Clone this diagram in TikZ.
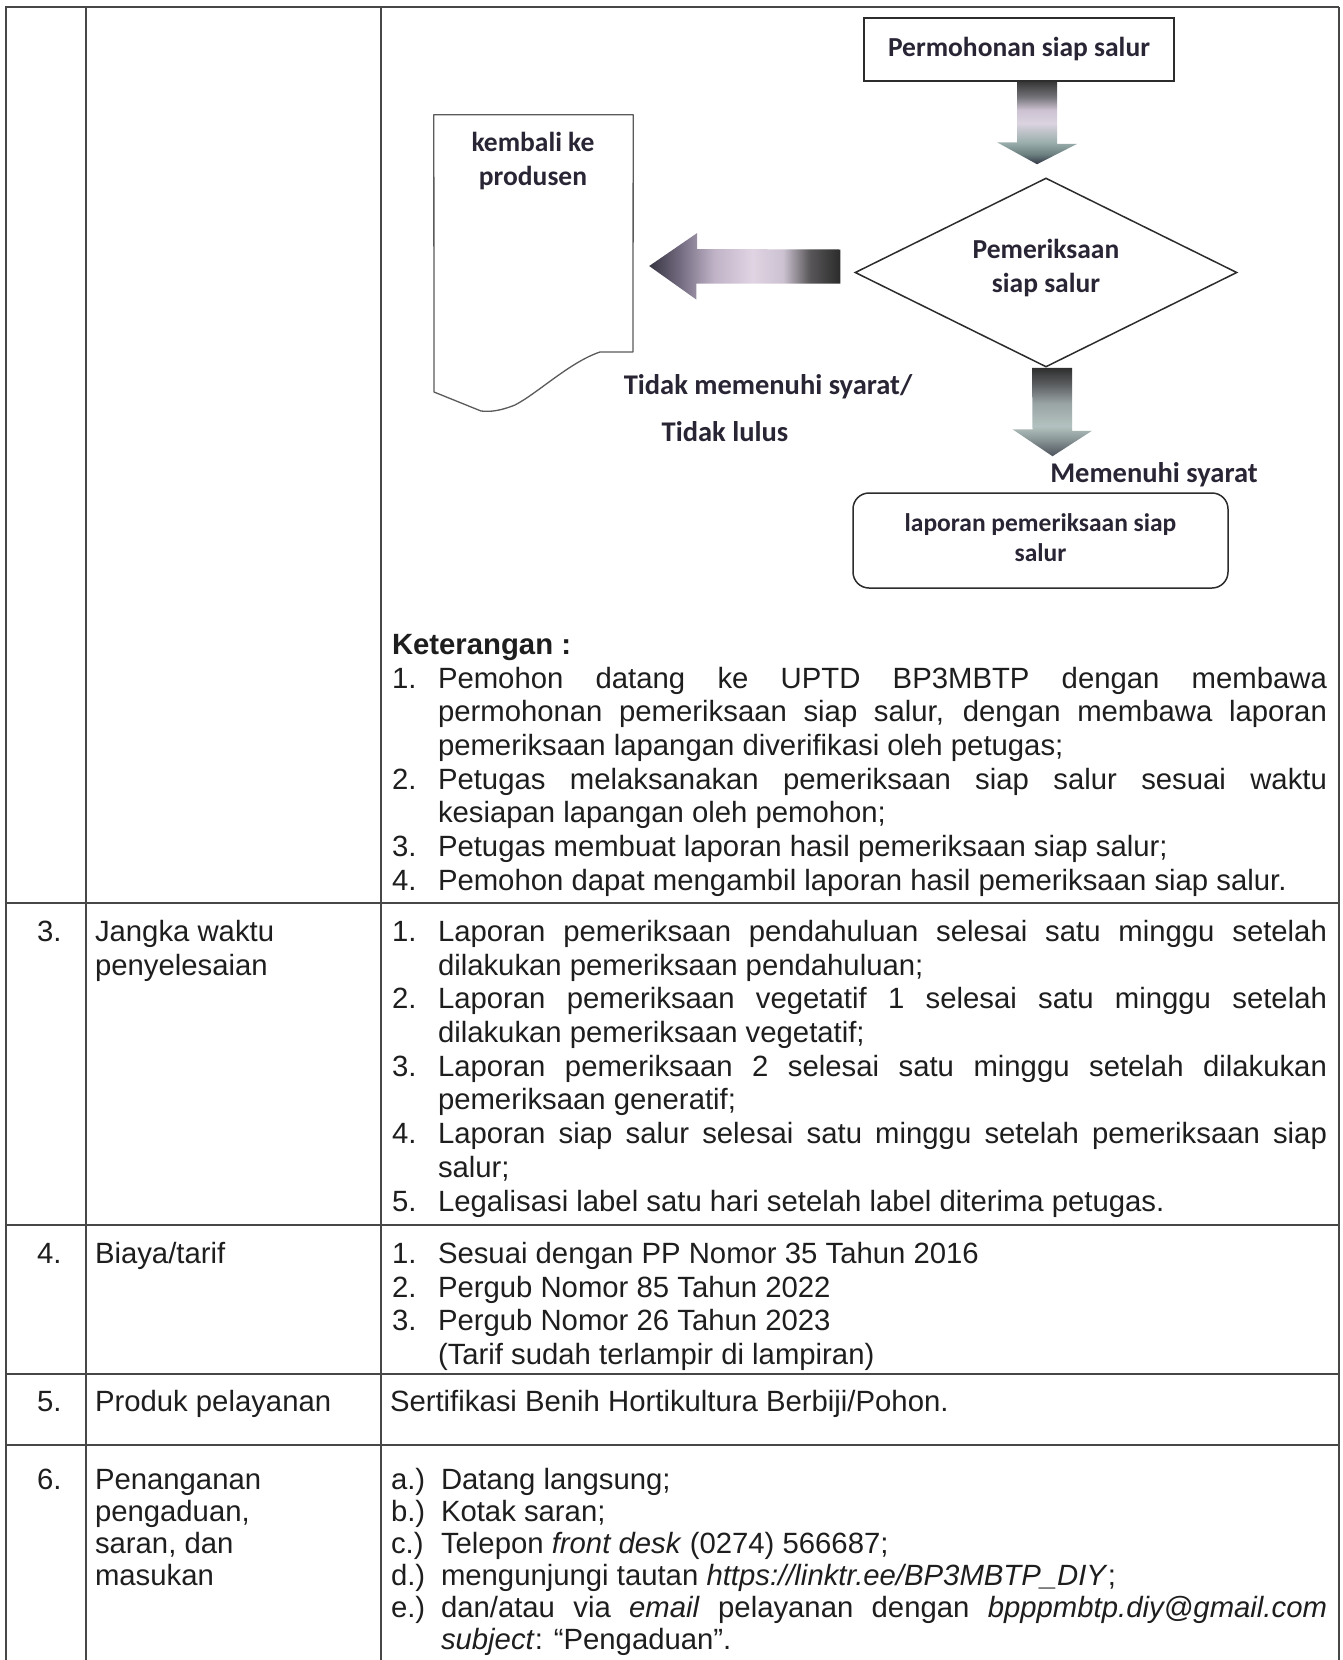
\documentclass[tikz,border=0pt]{standalone}
\usepackage{fontspec}
\setmainfont{Liberation Sans}
\newfontfamily\flowfont{Carlito}
\usetikzlibrary{shapes.geometric,calc}

\definecolor{ink}{HTML}{1E1E1E}
\definecolor{flowink}{HTML}{2A2535}
\definecolor{rulecol}{HTML}{474747}
\definecolor{shapecol}{HTML}{2C2C2C}
\definecolor{doccol}{HTML}{5A5A5A}

% shadings of the three block arrows
\pgfdeclareverticalshading{downshadeA}{100bp}{%
  rgb(0bp)=(0.20,0.21,0.27); rgb(25bp)=(0.20,0.21,0.27);
  rgb(31bp)=(0.42,0.50,0.50); rgb(38bp)=(0.60,0.68,0.67);
  rgb(50bp)=(0.86,0.83,0.88); rgb(58bp)=(0.80,0.76,0.82);
  rgb(66bp)=(0.45,0.45,0.47); rgb(75bp)=(0.22,0.22,0.22);
  rgb(100bp)=(0.22,0.22,0.22)}
\pgfdeclareverticalshading{downshadeB}{100bp}{%
  rgb(0bp)=(0.30,0.32,0.36); rgb(25bp)=(0.30,0.32,0.36);
  rgb(35bp)=(0.55,0.60,0.60); rgb(42bp)=(0.70,0.76,0.75);
  rgb(55bp)=(0.60,0.64,0.64); rgb(66bp)=(0.35,0.36,0.37);
  rgb(75bp)=(0.18,0.18,0.18); rgb(100bp)=(0.18,0.18,0.18)}
\pgfdeclarehorizontalshading{leftshade}{100bp}{%
  rgb(0bp)=(0.22,0.21,0.26); rgb(25bp)=(0.22,0.21,0.26);
  rgb(33bp)=(0.45,0.42,0.50); rgb(42bp)=(0.75,0.70,0.78);
  rgb(52bp)=(0.88,0.83,0.89); rgb(60bp)=(0.80,0.76,0.82);
  rgb(67bp)=(0.35,0.34,0.35); rgb(75bp)=(0.17,0.17,0.17);
  rgb(100bp)=(0.17,0.17,0.17)}

\newcommand{\bodysize}{\fontsize{29.3}{33.7}\selectfont}
\newcommand{\fulline}[2][889pt]{\makebox[#1][s]{#2}}

\tikzset{
  txt/.style={anchor=base west, inner sep=0pt, outer sep=0pt, text=ink, font=\bodysize},
  flowtxt/.style={inner sep=0pt, text=flowink, align=center,
    font=\flowfont\bfseries\fontsize{27.5}{34}\selectfont},
  condtxt/.style={flowtxt, font=\flowfont\bfseries\fontsize{28.5}{34}\selectfont},
  tblrule/.style={draw=rulecol, line width=1.8pt},
  procbox/.style={draw=shapecol, line width=1.8pt, fill=white, inner sep=0pt,
    minimum width=310pt, minimum height=63pt, flowtxt},
  decision/.style={shape=diamond, draw=shapecol, line width=1.5pt, inner sep=0pt,
    minimum width=382pt, minimum height=189pt},
  endbox/.style={draw=shapecol, line width=1.5pt, rounded corners=16pt, inner sep=0pt,
    minimum width=375pt, minimum height=95pt},
  docline/.style={draw=doccol, line width=1.3pt, line join=round},
}

\begin{document}
\begin{tikzpicture}[x=1pt, y=-1pt]
\useasboundingbox (0,0) rectangle (1343,1660);
\fill[white] (0,0) rectangle (1343,1660);

% ---------- table grid ----------
\draw[tblrule, line width=2.4pt] (5,7) -- (1339,7);
\draw[tblrule] (6,7) -- (6,1660);
\draw[tblrule] (86,7) -- (86,1660);
\draw[tblrule] (381,7) -- (381,1660);
\draw[tblrule] (1339,7) -- (1339,1660);
\draw[tblrule] (6,903) -- (1339,903);
\draw[tblrule] (6,1225) -- (1339,1225);
\draw[tblrule] (6,1374) -- (1339,1374);
\draw[tblrule] (6,1445) -- (1339,1445);

% ---------- flowchart ----------
\node[procbox] (box) at (1019,49.5) {Permohonan siap salur};
\node[decision] (dia) at (1046,272.5) {};
\node[flowtxt] (diatext) at (1046,268) {Pemeriksaan\\siap salur};
\node[endbox] (rbox) at (1040.5,540.5) {};
\node[flowtxt, font=\flowfont\bfseries\fontsize{25.5}{30}\selectfont] (rboxtext) at (1040.5,538) {laporan pemeriksaan siap\\salur};

% document shape
\node[inner sep=0pt, minimum width=199pt, minimum height=237pt] (doc) at (533.5,233.5) {};
\draw[docline] (doc.north west) -- (doc.north east) -- (633,352) -- (600,352)
  .. controls (570,362) and (538,393) .. (515,405)
  .. controls (500,411) and (490,412) .. (481,411) -- (434,392) -- cycle;
\node[flowtxt] (doctext) at (533,161.5) {kembali ke\\produsen};

% block arrows
\coordinate (a1tail) at ($(box.south)+(18,0)$);
\coordinate (a1tip)  at ($(dia.north)+(-9,-13)$);
\shade[shading=downshadeA] ($(a1tail)+(-20,0)$) -- ++(40,0) -- ++(0,62) -- ++(20,0)
  -- (a1tip) -- ++(-40,-22) -- ++(20,0) -- cycle;

\coordinate (a2tail) at ($(dia.south)+(6,0)$);
\coordinate (a2tip)  at ($(rbox.north)+(12,-36)$);
\shade[shading=downshadeB] ($(a2tail)+(-20,0)$) -- ++(40,0) -- ++(0,63) -- ++(20,0)
  -- (a2tip) -- ++(-40,-27) -- ++(20,0) -- cycle;

\coordinate (latail) at ($(dia.west)+(-14,-6)$);
\coordinate (latip)  at ($(doc.east)+(16,32.5)$);
\shade[shading=leftshade] ($(latail)+(0,-17)$) -- ++(0,34) -- ++(-144,0) -- ++(0,16)
  -- (latip) -- ++(48,-33) -- ++(0,16) -- cycle;

% branch labels
\node[condtxt] (nolabel) at (768,387) {Tidak memenuhi syarat/};
\node[condtxt] (nolabel2) at (725,432) {Tidak lulus};
\node[condtxt] (yeslabel) at (1154,475) {Memenuhi syarat};

% ---------- Keterangan ----------
\node[txt] (kt)  at (392,654) {\textbf{Keterangan :}};
\node[txt] (k1n) at (392,688) {1.};
\node[txt] (k1a) at (438,688) {\fulline{Pemohon datang ke UPTD BP3MBTP dengan membawa}};
\node[txt] (k1b) at (438,721) {\fulline{permohonan pemeriksaan siap salur, dengan membawa laporan}};
\node[txt] (k1c) at (438,755) {pemeriksaan lapangan diverifikasi oleh petugas;};
\node[txt] (k2n) at (392,789) {2.};
\node[txt] (k2a) at (438,789) {\fulline{Petugas melaksanakan pemeriksaan siap salur sesuai waktu}};
\node[txt] (k2b) at (438,822) {kesiapan lapangan oleh pemohon;};
\node[txt] (k3n) at (392,856) {3.};
\node[txt] (k3a) at (438,856) {Petugas membuat laporan hasil pemeriksaan siap salur;};
\node[txt] (k4n) at (392,890) {4.};
\node[txt] (k4a) at (438,890) {Pemohon dapat mengambil laporan hasil pemeriksaan siap salur.};

% ---------- row 3 ----------
\node[txt] (r3no) at (37,941) {3.};
\node[txt] (r3ha) at (95,941) {Jangka waktu};
\node[txt] (r3hb) at (95,975) {penyelesaian};
\node[txt] (r3n1) at (392,941) {1.};
\node[txt] (r3a1) at (438,941) {\fulline{Laporan pemeriksaan pendahuluan selesai satu minggu setelah}};
\node[txt] (r3b1) at (438,975) {dilakukan pemeriksaan pendahuluan;};
\node[txt] (r3n2) at (392,1008) {2.};
\node[txt] (r3a2) at (438,1008) {\fulline{Laporan pemeriksaan vegetatif 1 selesai satu minggu setelah}};
\node[txt] (r3b2) at (438,1042) {dilakukan pemeriksaan vegetatif;};
\node[txt] (r3n3) at (392,1076) {3.};
\node[txt] (r3a3) at (438,1076) {\fulline{Laporan pemeriksaan 2 selesai satu minggu setelah dilakukan}};
\node[txt] (r3b3) at (438,1109) {pemeriksaan generatif;};
\node[txt] (r3n4) at (392,1143) {4.};
\node[txt] (r3a4) at (438,1143) {\fulline{Laporan siap salur selesai satu minggu setelah pemeriksaan siap}};
\node[txt] (r3b4) at (438,1177) {salur;};
\node[txt] (r3n5) at (392,1211) {5.};
\node[txt] (r3a5) at (438,1211) {Legalisasi label satu hari setelah label diterima petugas.};

% ---------- row 4 ----------
\node[txt] (r4no) at (37,1263) {4.};
\node[txt] (r4h)  at (95,1263) {Biaya/tarif};
\node[txt] (r4n1) at (392,1263) {1.};
\node[txt] (r4a1) at (438,1263) {Sesuai dengan PP Nomor 35 Tahun 2016};
\node[txt] (r4n2) at (392,1297) {2.};
\node[txt] (r4a2) at (438,1297) {Pergub Nomor 85 Tahun 2022};
\node[txt] (r4n3) at (392,1330) {3.};
\node[txt] (r4a3) at (438,1330) {Pergub Nomor 26 Tahun 2023};
\node[txt] (r4a4) at (438,1364) {(Tarif sudah terlampir di lampiran)};

% ---------- row 5 ----------
\node[txt] (r5no) at (37,1411) {5.};
\node[txt] (r5h)  at (95,1411) {Produk pelayanan};
\node[txt] (r5a)  at (390,1411) {Sertifikasi Benih Hortikultura Berbiji/Pohon.};

% ---------- row 6 ----------
\node[txt] (r6no) at (37,1489) {6.};
\node[txt] (r6ha) at (95,1489) {Penanganan};
\node[txt] (r6hb) at (95,1521) {pengaduan,};
\node[txt] (r6hc) at (95,1553) {saran, dan};
\node[txt] (r6hd) at (95,1585) {masukan};
\node[txt] (r6la) at (391,1489) {a.)};
\node[txt] (r6ta) at (441,1489) {Datang langsung;};
\node[txt] (r6lb) at (391,1521) {b.)};
\node[txt] (r6tb) at (441,1521) {Kotak saran;};
\node[txt] (r6lc) at (391,1553) {c.)};
\node[txt] (r6tc) at (441,1553) {Telepon \textit{front desk} (0274) 566687;};
\node[txt] (r6ld) at (391,1585) {d.)};
\node[txt] (r6td) at (441,1585) {mengunjungi tautan \textit{https://linktr.ee/BP3MBTP\_DIY};};
\node[txt] (r6le) at (391,1617) {e.)};
\node[txt] (r6te) at (441,1617) {\fulline[886pt]{dan/atau via \textit{email} pelayanan dengan \textit{bpppmbtp.diy@gmail.com}}};
\node[txt] (r6tf) at (441,1649) {\textit{subject}: “Pengaduan”.};
\end{tikzpicture}
\end{document}
